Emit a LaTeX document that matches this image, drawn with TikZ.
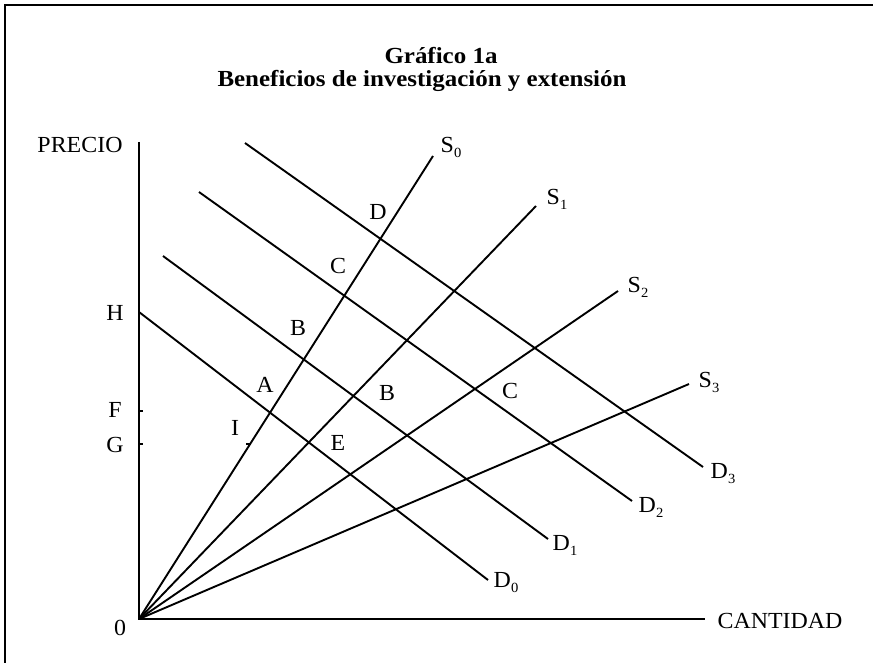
\documentclass[tikz,border=0pt]{standalone}
\usepackage{fontspec}
\setmainfont{Liberation Serif}
\usepackage{graphicx}
\newcommand{\hs}[1]{\scalebox{1.04}[1]{#1}}
\newcommand{\ths}[1]{\scalebox{1.085}[1]{#1}}
\newcommand{\sbs}[1]{\raisebox{-5pt}{\fontsize{14}{14}\selectfont #1}}
\begin{document}
\begin{tikzpicture}[x=1pt,y=-1pt,
  curve/.style={line width=1.9pt},
  axisline/.style={line width=2.1pt},
  lbl/.style={inner sep=0pt, font=\fontsize{23}{23}\selectfont},
  ttl/.style={inner sep=0pt, font=\fontsize{23}{25}\bfseries}]
\useasboundingbox (0,0) rectangle (873,663);
% frame
\draw[line width=1.8pt] (5,663) -- (5,5) -- (873,5);
% coordinates
\coordinate (O) at (139,619);
\coordinate (Ytop) at (139,142);
\coordinate (Xend) at (705,619);
\coordinate (S0e) at (433,156);
\coordinate (S1e) at (536,206);
\coordinate (S2e) at (618,291);
\coordinate (S3e) at (689,384);
\coordinate (D0s) at (139,312);
\coordinate (D0e) at (488,580);
\coordinate (D1s) at (163,256);
\coordinate (D1e) at (548,539);
\coordinate (D2s) at (199,192);
\coordinate (D2e) at (632,501);
\coordinate (D3s) at (245,143);
\coordinate (D3e) at (703,467);
\coordinate (Ft) at (143,411);
\coordinate (Fa) at (139,411);
\coordinate (Gt) at (143,444);
\coordinate (Ga) at (139,444);
\coordinate (It) at (246,444);
\coordinate (Ia) at (250,444);
% axes
\draw[axisline] (Ytop) -- (O) -- (Xend);
\draw[line width=1.2pt] (Fa) -- (Ft);
\draw[line width=1.2pt] (Ga) -- (Gt);
\draw[line width=1.2pt] (It) -- (Ia);
% supply
\draw[curve] (O) -- (S0e);
\draw[curve] (O) -- (S1e);
\draw[curve] (O) -- (S2e);
\draw[curve] (O) -- (S3e);
% demand
\draw[curve] (D0s) -- (D0e);
\draw[curve] (D1s) -- (D1e);
\draw[curve] (D2s) -- (D2e);
\draw[curve] (D3s) -- (D3e);
% title
\node[ttl] (t1) at (441,56) {\ths{Gráfico 1a}};
\node[ttl] (t2) at (422,81) {\ths{Beneficios de investigación y extensión}};
% axis labels
\node[lbl] (precio) at (80,145) {\hs{PRECIO}};
\node[lbl] (cant) at (780,621) {\hs{CANTIDAD}};
\node[lbl] (zero) at (120,628) {\hs{0}};
\node[lbl] (H) at (115,313) {\hs{H}};
\node[lbl] (F) at (115,410) {\hs{F}};
\node[lbl] (G) at (115,445) {\hs{G}};
% curve labels
\node[lbl] (lS0) at (451,147) {\hs{S\sbs{0}}};
\node[lbl] (lS1) at (557,199) {\hs{S\sbs{1}}};
\node[lbl] (lS2) at (638,287) {\hs{S\sbs{2}}};
\node[lbl] (lS3) at (709,382) {\hs{S\sbs{3}}};
\node[lbl] (lD0) at (506,583) {\hs{D\sbs{0}}};
\node[lbl] (lD1) at (565,545) {\hs{D\sbs{1}}};
\node[lbl] (lD2) at (651,507) {\hs{D\sbs{2}}};
\node[lbl] (lD3) at (723,474) {\hs{D\sbs{3}}};
% point labels
\node[lbl] (pD) at (378,212) {\hs{D}};
\node[lbl] (pC) at (338,266) {\hs{C}};
\node[lbl] (pB) at (298,328) {\hs{B}};
\node[lbl] (pA) at (265,385) {\hs{A}};
\node[lbl] (pI) at (235,428) {\hs{I}};
\node[lbl] (pE) at (338,443) {\hs{E}};
\node[lbl] (pB2) at (387,393) {\hs{B}};
\node[lbl] (pC2) at (510,391) {\hs{C}};
\end{tikzpicture}
\end{document}
